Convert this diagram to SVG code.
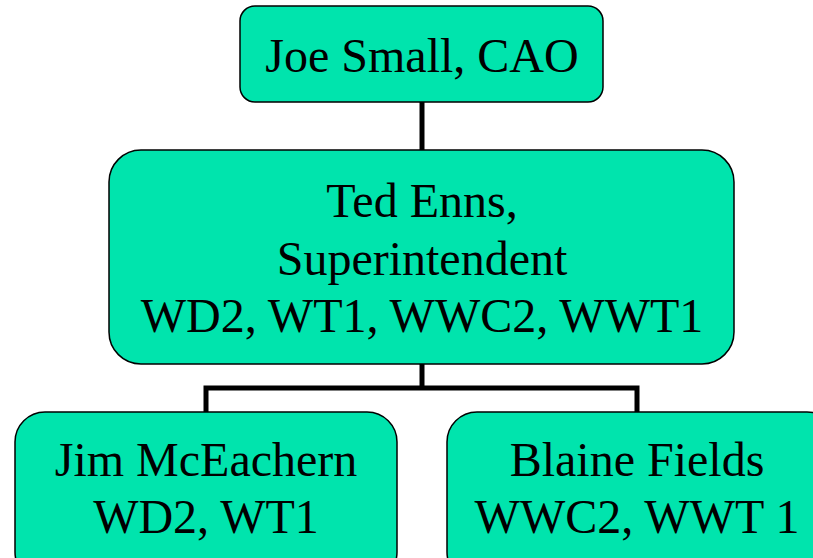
<svg xmlns="http://www.w3.org/2000/svg" width="813" height="558" viewBox="0 0 813 558">
<style>
.box{fill:#00E4AD;stroke:#000;stroke-width:1.5}
.t{font-family:"Liberation Serif","Times New Roman",serif;font-size:48px;fill:#000;text-anchor:middle}
.c{fill:none;stroke:#000;stroke-width:5}
</style>
<rect width="813" height="558" fill="#fff"/>
<g id="connectors">
<line class="c" x1="422" y1="102" x2="422" y2="150"/>
<path class="c" d="M422 364 V388 M206 412 V388 H637 V412"/>
</g>
<g id="joe">
<rect class="box" x="240" y="6" width="363" height="96" rx="15"/>
<text class="t" x="422" y="72">Joe Small, CAO</text>
</g>
<g id="ted">
<rect class="box" x="109" y="150" width="625" height="214" rx="32"/>
<text class="t" x="422" y="217">Ted Enns,</text>
<text class="t" x="422" y="275">Superintendent</text>
<text class="t" x="422" y="332">WD2, WT1, WWC2, WWT1</text>
</g>
<g id="jim">
<rect class="box" x="15" y="412" width="382" height="170" rx="30"/>
<text class="t" x="206" y="476">Jim McEachern</text>
<text class="t" x="206" y="533">WD2, WT1</text>
</g>
<g id="blaine">
<rect class="box" x="447" y="412" width="390" height="170" rx="30"/>
<text class="t" x="637" y="476">Blaine Fields</text>
<text class="t" x="637" y="533">WWC2, WWT 1</text>
</g>
</svg>
